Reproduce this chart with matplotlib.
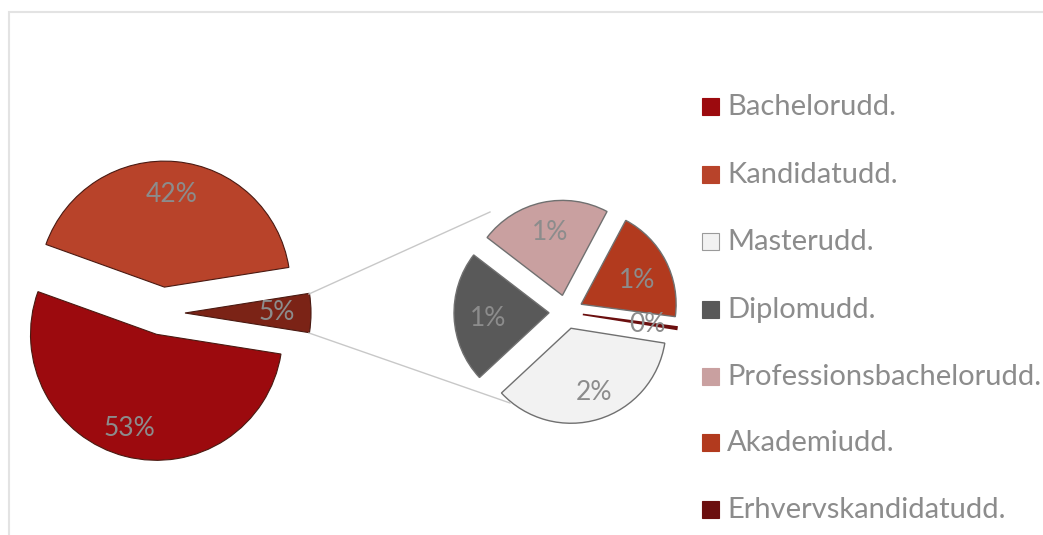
import matplotlib
matplotlib.use("Agg")
import matplotlib.pyplot as plt
from matplotlib.patches import Rectangle

# ---- data ----
main_labels = ["Bachelorudd.", "Kandidatudd.", "Andre"]
main_values = [53.0, 42.0, 5.0]
sub_labels = ["Masterudd.", "Diplomudd.", "Professionsbachelorudd.", "Akademiudd.", "Erhvervskandidatudd."]
sub_values = [1.75, 1.1, 1.1, 0.95, 0.02]
legend_labels = ["Bachelorudd.", "Kandidatudd.", "Masterudd.", "Diplomudd.",
                 "Professionsbachelorudd.", "Akademiudd.", "Erhvervskandidatudd."]

main_colors = ["#9C0A0E", "#B8432A", "#7B2316"]
sub_colors = ["#F2F2F2", "#595959", "#C9A0A0", "#B23A1E", "#6B0F0F"]
legend_colors = ["#9C0A0E", "#B8432A", "#F2F2F2", "#595959", "#C9A0A0", "#B23A1E", "#6B0F0F"]

W, H = 1043, 535
fig = plt.figure(figsize=(W / 100, H / 100), dpi=100)
ax = fig.add_axes([0, 0, 1, 1])

label_color = "#8C8C8C"
font = ["Lato", "DejaVu Sans"]

total = sum(main_values)

# main pie (explode given in pixels = data units here)
main_center = (162, H - 313)
main_r = 126
wedges_m, _ = ax.pie(main_values, colors=main_colors, startangle=-9, counterclock=False,
                     center=main_center, radius=main_r, explode=[22, 26, 23],
                     wedgeprops=dict(edgecolor="#4a1a12", linewidth=0.8))

# sub pie
sub_center = (566, H - 312)
sub_r = 95
wedges_s, _ = ax.pie(sub_values, colors=sub_colors, startangle=-9, counterclock=False,
                     center=sub_center, radius=sub_r, explode=[17, 17, 17, 17, 17],
                     wedgeprops=dict(edgecolor="#707070", linewidth=1.0))
wedges_s[4].set_edgecolor("#6B0F0F")
wedges_s[4].set_linewidth(1.2)

ax.set_xlim(0, W)
ax.set_ylim(0, H)
ax.set_aspect("auto")
ax.axis("off")

# data labels
main_label_pos = [(129, H - 429), (172, H - 194), (277, H - 313)]
for v, (x, y) in zip(main_values, main_label_pos):
    ax.text(x, y, f"{round(v / total * 100):.0f}%", ha="center", va="center",
            fontsize=19, color=label_color, family=font)

sub_label_pos = [(594, H - 393), (488, H - 319), (550, H - 232), (637, H - 281), (647, H - 325)]
for v, (x, y) in zip(sub_values, sub_label_pos):
    ax.text(x, y, f"{round(v / total * 100):.0f}%", ha="center", va="center",
            fontsize=19, color=label_color, family=font)

# connector lines
ax.plot([309, 490], [H - 294, H - 212], color="#C8C8C8", lw=1.0)
ax.plot([309, 510], [H - 333, H - 403], color="#C8C8C8", lw=1.0)

# legend
leg_y = [107, 175, 242, 310, 377, 443, 510]
for lab, col, y in zip(legend_labels, legend_colors, leg_y):
    ax.add_patch(Rectangle((702, H - y - 8), 17, 17, facecolor=col,
                           edgecolor="#9a9a9a" if col == "#F2F2F2" else col, lw=0.8))
    ax.text(727, H - y, lab, ha="left", va="center", fontsize=21,
            color=label_color, family=font)

# chart border (top and left visible)
fig.patches.append(Rectangle((9 / W, -0.05), 2, (H - 12) / H + 0.05, transform=fig.transFigure,
                             facecolor="none", edgecolor="#E3E3E3", lw=1.5))

fig.savefig("out.png", dpi=100)
